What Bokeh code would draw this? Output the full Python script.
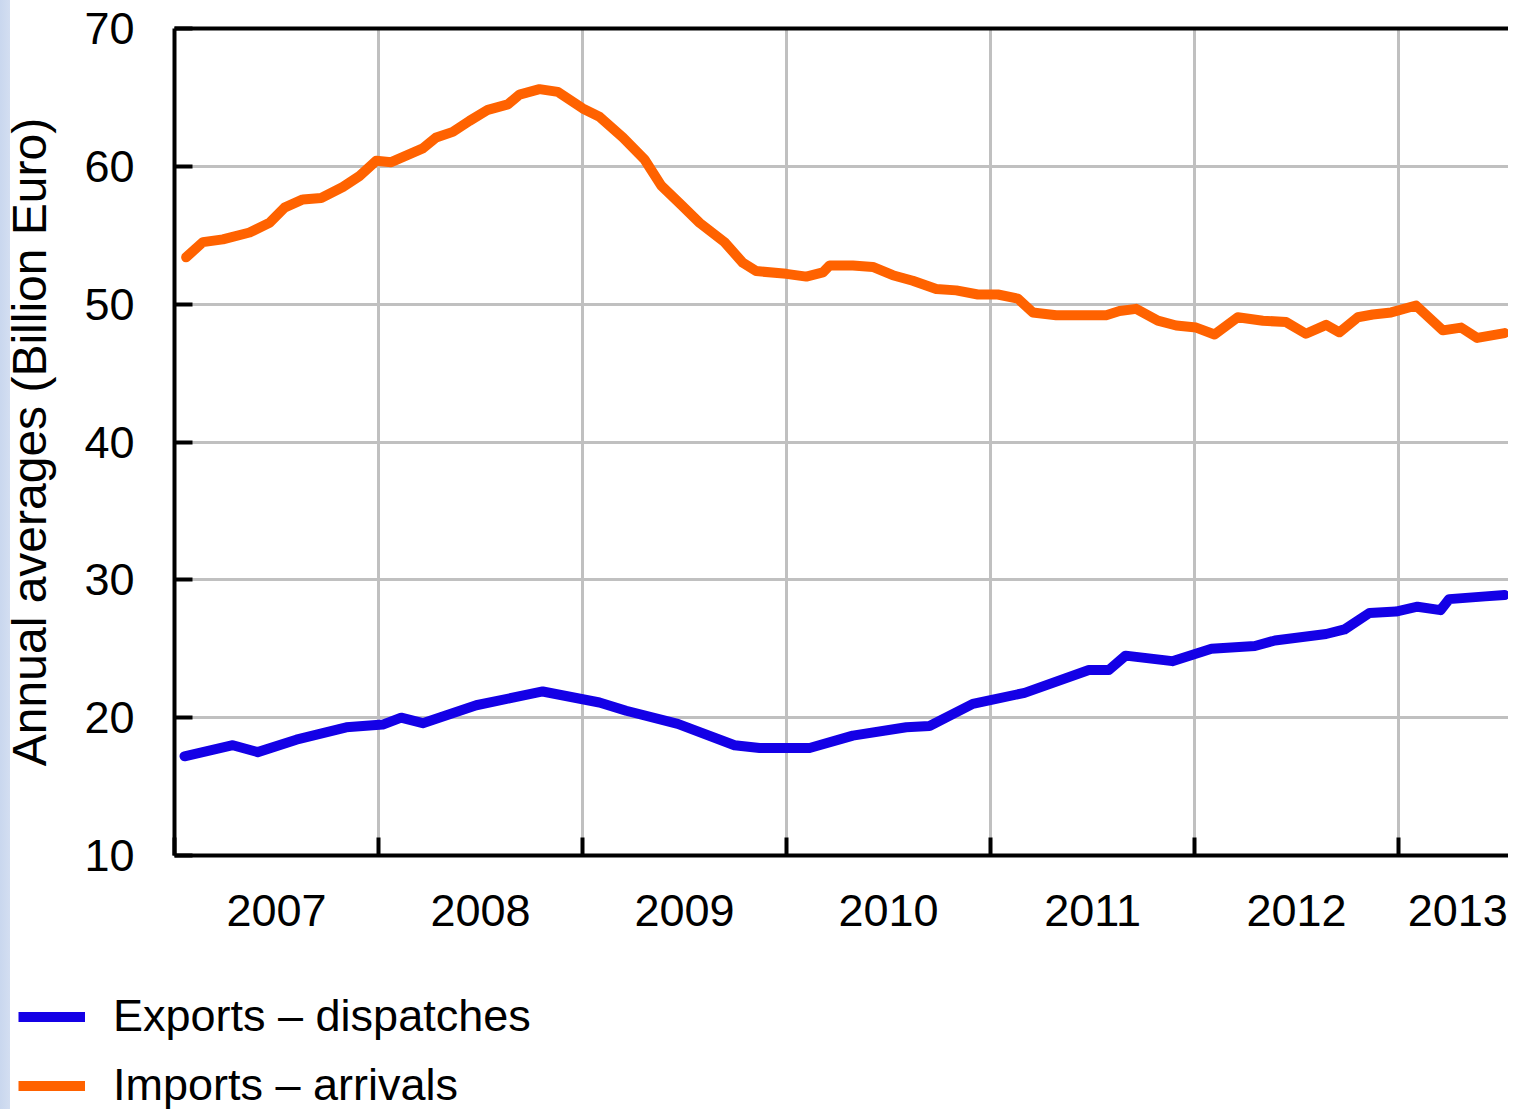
from bokeh.plotting import figure
from bokeh.models import LinearAxis, FixedTicker, Legend, LegendItem
from bokeh.layouts import column
from bokeh.embed import file_html
from bokeh.resources import INLINE

# ---- data (decimal years, billion euro) ----
exports_x = [2007.049, 2007.286, 2007.408, 2007.597, 2007.842, 2008.021, 2008.111, 2008.217,
             2008.479, 2008.805, 2009.083, 2009.214, 2009.467, 2009.745, 2009.868, 2010.113,
             2010.325, 2010.587, 2010.701, 2010.913, 2011.167, 2011.482, 2011.580, 2011.662,
             2011.891, 2012.083, 2012.296, 2012.394, 2012.645, 2012.735, 2012.858, 2012.987,
             2013.093, 2013.206, 2013.248, 2013.426, 2013.52]
exports_y = [17.2, 18.0, 17.5, 18.4, 19.3, 19.5, 20.0, 19.6,
             20.9, 21.9, 21.1, 20.5, 19.55, 18.0, 17.8, 17.8,
             18.7, 19.3, 19.4, 21.0, 21.8, 23.46, 23.46, 24.5,
             24.1, 25.0, 25.2, 25.6, 26.07, 26.4, 27.6, 27.7,
             28.05, 27.8, 28.6, 28.8, 28.9]

imports_x = [2007.057, 2007.139, 2007.237, 2007.368, 2007.466, 2007.539, 2007.629, 2007.719,
             2007.825, 2007.907, 2007.989, 2008.062, 2008.217, 2008.283, 2008.364, 2008.446,
             2008.536, 2008.634, 2008.691, 2008.789, 2008.879, 2009.001, 2009.083, 2009.198,
             2009.304, 2009.386, 2009.484, 2009.574, 2009.696, 2009.786, 2009.851, 2009.999,
             2010.097, 2010.178, 2010.211, 2010.325, 2010.423, 2010.521, 2010.619, 2010.734,
             2010.832, 2010.938, 2011.036, 2011.134, 2011.207, 2011.322, 2011.567, 2011.632,
             2011.714, 2011.820, 2011.910, 2012.008, 2012.098, 2012.212, 2012.335, 2012.449,
             2012.546, 2012.645, 2012.710, 2012.800, 2012.874, 2012.964, 2013.086, 2013.217,
             2013.307, 2013.386, 2013.52]
imports_y = [53.4, 54.5, 54.7, 55.2, 55.9, 57.0, 57.6, 57.7,
             58.5, 59.3, 60.4, 60.3, 61.3, 62.1, 62.5, 63.3,
             64.1, 64.5, 65.2, 65.6, 65.4, 64.2, 63.6, 62.1,
             60.5, 58.6, 57.2, 55.9, 54.5, 53.0, 52.4, 52.2,
             52.0, 52.3, 52.8, 52.8, 52.7, 52.1, 51.7, 51.1,
             51.0, 50.7, 50.7, 50.4, 49.4, 49.2, 49.2, 49.5,
             49.66, 48.8, 48.45, 48.3, 47.8, 49.05, 48.8, 48.7,
             47.85, 48.5, 47.96, 49.05, 49.25, 49.4, 49.9, 48.1,
             48.3, 47.55, 47.9]

year_labels = ["2007", "2008", "2009", "2010", "2011", "2012", "2013"]
year_label_pos = [2007.5, 2008.5, 2009.5, 2010.5, 2011.5, 2012.5, 2013.29]
year_bounds = [2007, 2008, 2009, 2010, 2011, 2012, 2013, 2014]
y_ticks = [10, 20, 30, 40, 50, 60, 70]

FONT = "Liberation Sans"
BLUE = "#1400e6"
ORANGE = "#ff6200"
GRID = "#c0c0c0"

p = figure(frame_width=1334, frame_height=827, x_range=(2007.0, 2013.539), y_range=(10, 70),
           output_backend="svg", toolbar_location=None,
           min_border_left=167, min_border_right=0, min_border_top=28, min_border_bottom=90)
p.outline_line_color = None
p.background_fill_color = "white"
p.border_fill_color = None
p.frame_align = False

# grids
p.xgrid.ticker = FixedTicker(ticks=year_bounds)
p.ygrid.ticker = FixedTicker(ticks=y_ticks)
for g in (p.xgrid, p.ygrid):
    g.grid_line_color = GRID
    g.grid_line_width = 3

# bottom axis with inward year-boundary ticks
xa = p.xaxis[0]
xa.ticker = FixedTicker(ticks=year_bounds)
xa.major_label_overrides = {y: "" for y in year_bounds}
xa.major_label_text_font_size = "1px"
xa.major_label_standoff = 0
xa.major_tick_in = 18
xa.major_tick_out = 0
xa.major_tick_line_width = 4
xa.major_tick_line_color = "black"
xa.minor_tick_line_color = None
xa.axis_line_width = 4
xa.axis_line_color = "black"

# year labels centred in each year
xl = LinearAxis(ticker=FixedTicker(ticks=year_label_pos),
                major_label_overrides={pos: lab for pos, lab in zip(year_label_pos, year_labels)})
xl.axis_line_color = None
xl.major_tick_line_color = None
xl.minor_tick_line_color = None
xl.major_label_standoff = 33
xl.major_label_text_font = FONT
xl.major_label_text_font_size = "45px"
xl.major_label_text_color = "black"
p.add_layout(xl, "below")

# top border
top = LinearAxis(ticker=FixedTicker(ticks=[]))
top.axis_line_width = 4
top.axis_line_color = "black"
top.major_tick_line_color = None
top.minor_tick_line_color = None
top.major_label_text_font_size = "1px"
p.add_layout(top, "above")

# y axis
ya = p.yaxis[0]
ya.ticker = FixedTicker(ticks=y_ticks)
ya.major_tick_in = 18
ya.major_tick_out = 0
ya.major_tick_line_width = 4
ya.minor_tick_line_color = None
ya.axis_line_width = 4
ya.axis_line_color = "black"
ya.major_label_standoff = 40
ya.major_label_text_font = FONT
ya.major_label_text_font_size = "45px"
ya.major_label_text_color = "black"
ya.axis_label = "Annual averages (Billion Euro)"
ya.axis_label_text_font = FONT
ya.axis_label_text_font_size = "48px"
ya.axis_label_text_font_style = "normal"
ya.axis_label_text_color = "black"
ya.axis_label_standoff = 25

p.line(imports_x, imports_y, line_width=10, line_color=ORANGE, line_join="round", line_cap="round")
p.line(exports_x, exports_y, line_width=10, line_color=BLUE, line_join="round", line_cap="round")

# legend figure (same series, drawn outside its visible range so only the legend shows)
p2 = figure(width=1501, height=164, x_range=(0, 1), y_range=(0, 1), output_backend="svg",
            toolbar_location=None, min_border=0, x_axis_location=None, y_axis_location=None)
p2.outline_line_color = None
p2.grid.visible = False
p2.frame_align = False
p2.border_fill_color = None
p2.background_fill_color = None
r_exp = p2.line(exports_x, exports_y, line_width=10, line_color=BLUE)
r_imp = p2.line(imports_x, imports_y, line_width=10, line_color=ORANGE)
legend = Legend(items=[LegendItem(label="Exports – dispatches", renderers=[r_exp]),
                       LegendItem(label="Imports – arrivals", renderers=[r_imp])],
                location=(18, -2), orientation="vertical",
                glyph_width=67, glyph_height=45, label_height=45, label_standoff=28,
                spacing=17, padding=0, margin=0, border_line_color=None,
                background_fill_alpha=0,
                label_text_font=FONT, label_text_font_size="45px", label_text_color="black")
p2.add_layout(legend)

layout = column(p, p2, spacing=0)
html = file_html(layout, INLINE)
html = html.replace("</head>", "<style>html { min-height: 100%; background: linear-gradient(to right, #c9d7ee 0px, #d3def1 10px, #ffffff 10px) fixed; } body { background: transparent; }</style></head>", 1)
open("out.html", "w").write(html)
